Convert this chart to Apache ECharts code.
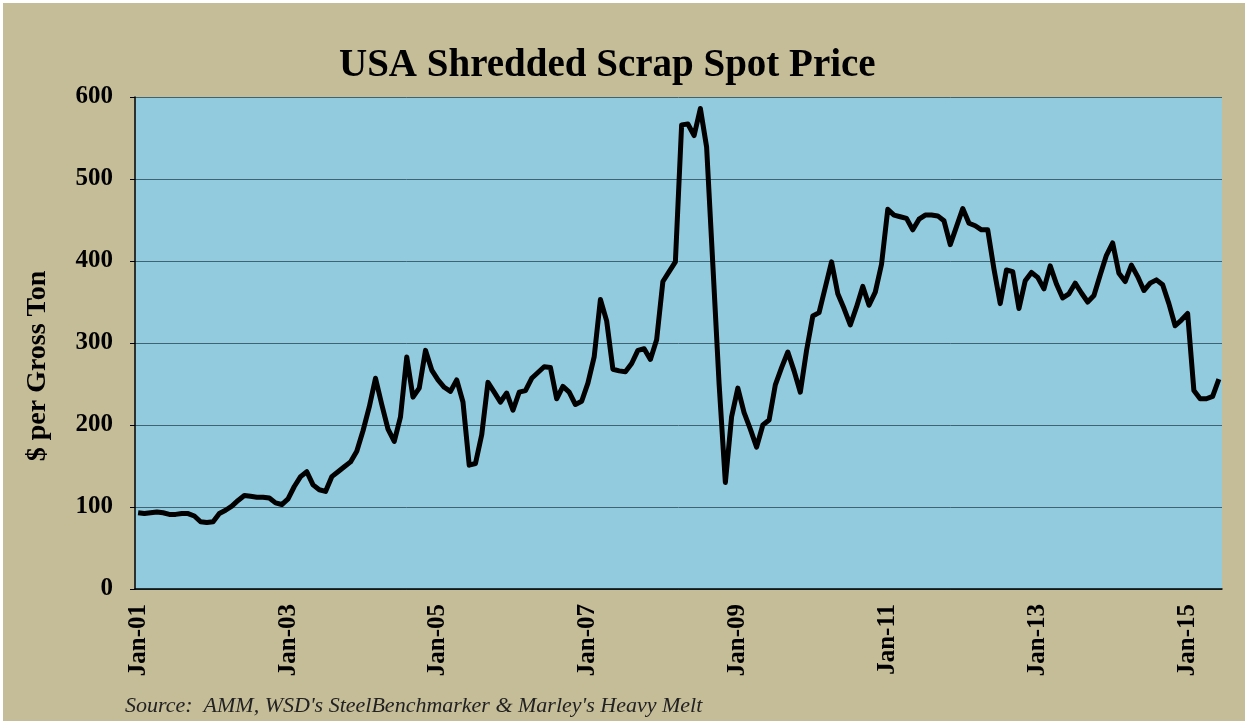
<!DOCTYPE html>
<html>
<head>
<meta charset="utf-8">
<title>USA Shredded Scrap Spot Price</title>
<script src="https://cdn.jsdelivr.net/npm/echarts@6/dist/echarts.min.js"></script>
<style>
  html, body { margin: 0; padding: 0; background: #fff; }
  #main { position: absolute; left: 3px; top: 3px; width: 1242px; height: 718px; }
</style>
</head>
<body>
<div id="main"></div>
<script>
// monthly, Jan-01 .. Jun-15
const startYear = 2001;
const monthNames = ['Jan', 'Feb', 'Mar', 'Apr', 'May', 'Jun', 'Jul', 'Aug', 'Sep', 'Oct', 'Nov', 'Dec'];

// $ per gross ton
const price2001_2004 = [
  93, 92, 93, 94, 93, 91, 91, 92, 92, 89, 82, 81,
  82, 92, 96, 101, 108, 114, 113, 112, 112, 111, 105, 103,
  110, 125, 137, 143, 127, 121, 119, 137, 143, 149, 155, 168,
  193, 222, 257, 225, 195, 180, 210, 283, 234, 245, 291, 267
];
const price2005_2008 = [
  255, 246, 241, 255, 228, 151, 153, 188, 252, 240, 228, 239,
  218, 240, 242, 257, 264, 271, 270, 232, 247, 240, 225, 229,
  251, 283, 353, 327, 268, 266, 265, 275, 291, 293, 280, 304,
  375, 387, 399, 566, 567, 553, 586, 539, 395, 250, 130, 210
];
const price2009_2012 = [
  245, 215, 195, 173, 200, 206, 249, 270, 289, 266, 240, 291,
  333, 337, 368, 399, 360, 342, 322, 344, 369, 346, 362, 396,
  463, 456, 454, 452, 438, 451, 456, 456, 455, 449, 420, 442,
  464, 446, 443, 438, 438, 390, 348, 389, 387, 342, 376, 386
];
const price2013_2015 = [
  380, 366, 394, 372, 355, 360, 373, 361, 350, 358, 383, 407,
  422, 385, 375, 395, 381, 364, 373, 377, 371, 348, 321, 328,
  336, 242, 232, 232, 235, 256
];
const priceValues = price2001_2004.concat(price2005_2008, price2009_2012, price2013_2015);

const categories = priceValues.map((v, i) => {
  const yy = (startYear + Math.floor(i / 12)) % 100;
  return monthNames[i % 12] + '-' + String(yy).padStart(2, '0');
});

const yTicks = { min: 0, max: 600, step: 100 };
const labelEvery = 24;

const serif = '"Liberation Serif", "DejaVu Serif", serif';

const chart = echarts.init(document.getElementById('main'));
const option = {
  backgroundColor: '#c5bc98',
  animation: false,
  title: {
    text: 'USA Shredded Scrap Spot Price',
    left: 331,
    top: 38,
    textStyle: {
      fontFamily: serif,
      fontWeight: 'bold',
      fontSize: 39,
      color: '#000'
    }
  },
  grid: {
    left: 132,
    right: 23,
    top: 94,
    bottom: 132,
    show: true,
    backgroundColor: '#92cbdd',
    borderWidth: 0
  },
  xAxis: {
    type: 'category',
    data: categories,
    boundaryGap: true,
    axisLine: { lineStyle: { color: '#000', width: 1.5 } },
    axisTick: {
      interval: (i) => i % labelEvery === 0,
      length: 6,
      lineStyle: { color: '#000' }
    },
    axisLabel: {
      interval: (i) => i % labelEvery === 0,
      rotate: 90,
      margin: 15,
      fontFamily: serif,
      fontWeight: 'bold',
      fontSize: 25,
      color: '#000'
    },
    splitLine: { show: false }
  },
  yAxis: {
    type: 'value',
    min: yTicks.min,
    max: yTicks.max,
    interval: yTicks.step,
    name: '$ per Gross Ton',
    nameLocation: 'middle',
    nameGap: 83,
    nameTextStyle: {
      fontFamily: serif,
      fontWeight: 'bold',
      fontSize: 28,
      color: '#000',
      padding: [0, 46, 0, 0]
    },
    axisLine: { show: true, lineStyle: { color: '#000', width: 1.5 } },
    axisTick: { show: true, length: 5, lineStyle: { color: '#000' } },
    axisLabel: {
      margin: 22,
      fontFamily: serif,
      fontWeight: 'bold',
      fontSize: 25,
      color: '#000'
    },
    splitLine: { lineStyle: { color: '#3e6473', width: 1 } }
  },
  series: [{
    name: 'Shredded Scrap',
    type: 'line',
    data: priceValues,
    symbol: 'none',
    lineStyle: { color: '#000', width: 5, join: 'round' }
  }],
  graphic: [{
    type: 'text',
    left: 122,
    top: 692,
    style: {
      text: "Source:  AMM, WSD's SteelBenchmarker & Marley's Heavy Melt",
      font: 'italic 22px ' + serif,
      fill: '#222'
    }
  }]
};
chart.setOption(option);
</script>
</body>
</html>
